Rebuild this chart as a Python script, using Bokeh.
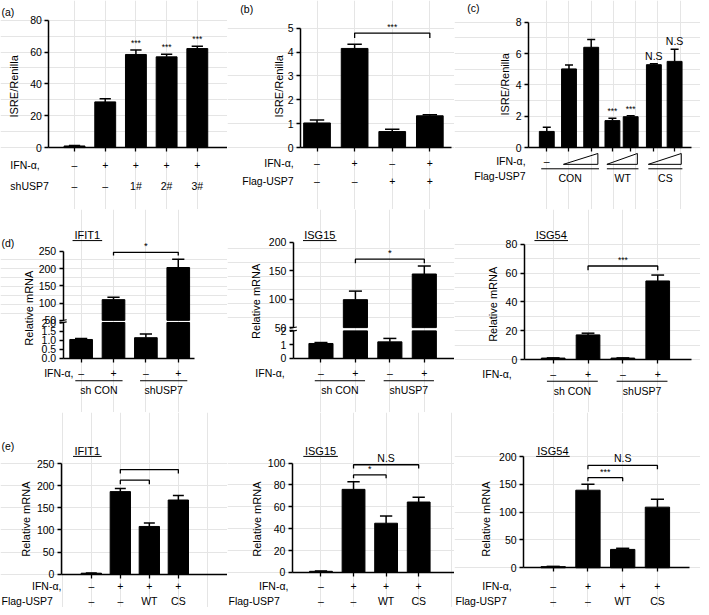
import math
from bokeh.plotting import figure
from bokeh.models import Range1d, LinearAxis, FixedTicker, CustomJSTickFormatter
from bokeh.layouts import column, row
from bokeh.core.properties import value
from bokeh.embed import file_html
from bokeh.resources import INLINE

# ---------------- data ----------------
a_ifn = ["–", "+", "+", "+", "+"]
a_sh = ["–", "–", "1#", "2#", "3#"]
a_vals = [1.0, 28.7, 58.5, 57.0, 62.2]
a_err = [0.3, 2.0, 2.8, 1.7, 1.5]
a_sig = ["", "", "***", "***", "***"]
a_ticks = [0, 20, 40, 60, 80]

b_ifn = ["–", "+", "–", "+"]
b_flag = ["–", "–", "+", "+"]
b_vals = [1.03, 4.15, 0.67, 1.33]
b_err = [0.12, 0.18, 0.1, 0.04]
b_ticks = [0, 1, 2, 3, 4, 5]
b_sig = "***"

c_groups = ["CON", "WT", "CS"]
c_vals = [1.03, 5.02, 6.4, 1.72, 1.97, 5.29, 5.5]
c_err = [0.27, 0.25, 0.5, 0.15, 0.06, 0.06, 0.78]
c_sig = ["", "", "", "***", "***", "N.S", "N.S"]
c_ticks = [0, 2, 4, 6, 8]

d_ifn = ["–", "+", "–", "+"]
d_groups = ["sh CON", "shUSP7"]
d_ifit1 = [1.05, 110, 1.15, 203]
d_ifit1_err = [0.05, 7, 0.2, 24]
d_ifit1_lo_ticks = [0, 0.5, 1.0, 1.5, 2.0]
d_ifit1_hi_ticks = [50, 100, 150, 200, 250]
d_isg15 = [1.08, 99, 1.2, 144]
d_isg15_err = [0.07, 15, 0.25, 14]
d_isg15_lo_ticks = [0, 1, 2]
d_isg15_hi_ticks = [50, 100, 150, 200]
d_isg54 = [1.0, 17.1, 1.0, 54.6]
d_isg54_err = [0.15, 1.2, 0.15, 4.1]
d_isg54_ticks = [0, 20, 40, 60, 80]
d_sig = ["*", "*", "***"]

e_ifn = ["–", "+", "+", "+"]
e_flag = ["–", "–", "WT", "CS"]
e_ifit1 = [2.0, 187, 108, 168]
e_ifit1_err = [0.5, 7, 8, 10]
e_ifit1_ticks = [0, 50, 100, 150, 200, 250]
e_isg15 = [1.0, 76, 45, 64.4]
e_isg15_err = [0.3, 7, 6.6, 4.3]
e_isg15_ticks = [0, 20, 40, 60, 80, 100]
e_isg54 = [2.0, 139.5, 33, 109]
e_isg54_err = [0.5, 10.5, 2, 14]
e_isg54_ticks = [0, 50, 100, 150, 200]
e_sig_ifit1 = ["", ""]
e_sig_isg15 = ["*", "N.S"]
e_sig_isg54 = ["***", "N.S"]

# ---------------- helpers ----------------
S = 0.987
FONT = "Liberation Sans"
TICK_FS = "10.5px"
LAB_FS = "11px"
ROW_FS = "10.5px"


class Panel:
    def __init__(self, Xl, Yt, W, H, X0, dX, Y0, k):
        self.X0, self.dX, self.Y0, self.k = X0, dX, Y0, k
        xr = Range1d((Xl - X0) / dX, (Xl + W / S - X0) / dX)
        yr = Range1d((Y0 - (Yt + H / S)) / k, (Y0 - Yt) / k)
        self.p = figure(width=W, height=H, x_range=xr, y_range=yr,
                        x_axis_location=None, y_axis_location=None,
                        toolbar_location=None, tools="", output_backend="svg",
                        min_border=0, outline_line_color=None,
                        background_fill_color="white", border_fill_color="white")

    def X(self, px):
        return (px - self.X0) / self.dX

    def Y(self, py):
        return (self.Y0 - py) / self.k

    def ux(self, n):
        return n / (self.dX * S)

    def uy(self, n):
        return n / (self.k * S)

    def text(self, xs, ys, texts, align="center", baseline="middle", size=ROW_FS, angle=0.0):
        items = [(x, y, t) for x, y, t in zip(xs, ys, texts) if t]
        if not items:
            return
        self.p.text(x=[i[0] for i in items], y=[i[1] for i in items], text=[i[2] for i in items],
                    angle=angle, text_align=align, text_baseline=baseline,
                    text_font=value(FONT), text_font_size=size, text_color="black")

    def yaxis(self, axis_px, ticks, lo, hi, formatter=None):
        ax = LinearAxis(fixed_location=self.X(axis_px), bounds=(lo, hi),
                        ticker=FixedTicker(ticks=ticks, minor_ticks=[]),
                        axis_line_width=1.5, axis_line_color="black",
                        major_tick_line_width=1.5, major_tick_line_color="black",
                        major_tick_out=4, major_tick_in=0, minor_tick_out=0, minor_tick_in=0,
                        major_label_text_font=FONT, major_label_text_font_size=TICK_FS,
                        major_label_text_color="black", major_label_standoff=3)
        if formatter is not None:
            ax.formatter = formatter
        self.p.add_layout(ax, "left")

    def xaxis(self, axis_px, end_px, ticks):
        ax = LinearAxis(fixed_location=0, bounds=(self.X(axis_px), self.X(end_px)),
                        ticker=FixedTicker(ticks=ticks, minor_ticks=[]),
                        formatter=CustomJSTickFormatter(code="return ''"),
                        axis_line_width=1.5, axis_line_color="black",
                        major_tick_line_width=1.3, major_tick_line_color="black",
                        major_tick_out=4, major_tick_in=0, minor_tick_out=0, minor_tick_in=0)
        self.p.add_layout(ax, "below")

    def bars(self, pos, tops, bottoms, width):
        self.p.vbar(x=pos, top=tops, bottom=bottoms, width=width,
                    fill_color="black", line_color="black", line_width=1)

    def errbars(self, pos, y0s, y1s, capw):
        self.p.segment(x0=pos, y0=y0s, x1=pos, y1=y1s, line_color="black", line_width=1.5)
        self.p.segment(x0=[x - capw for x in pos], y0=y1s, x1=[x + capw for x in pos], y1=y1s,
                       line_color="black", line_width=1.5)

    def bracket(self, xa, xb, y, ydrop, label, size="9px"):
        self.p.multi_line(xs=[[xa, xa, xb, xb]], ys=[[ydrop, y, y, ydrop]],
                          line_color="black", line_width=1.3)
        if label:
            self.text([(xa + xb) / 2], [y + self.uy(1)], [label], baseline="bottom", size=size)

    def seg(self, x0, y0, x1, y1, lw=1.0):
        self.p.segment(x0=[x0], y0=[y0], x1=[x1], y1=[y1], line_color="black", line_width=lw)


def std_bars(P, pos, vals, errs, width):
    P.bars(pos, vals, [0] * len(vals), width)
    P.errbars(pos, vals, [v + e for v, e in zip(vals, errs)], width * 0.27)


# ---------------- (a) ----------------
pa = Panel(0, 0, 227, 209, X0=75, dX=31.1, Y0=149, k=1.6125)
xa = list(range(len(a_vals)))
pa.yaxis(49, a_ticks, 0, a_ticks[-1])
pa.xaxis(49, 230, xa)
std_bars(pa, xa, a_vals, a_err, 0.68)
pa.text(xa, [v + e + pa.uy(2) for v, e in zip(a_vals, a_err)], a_sig, baseline="bottom", size="8.5px")
pa.text([pa.X(14)], [pa.Y(87)], ["ISRE/Renilla"], angle=math.pi / 2, size=LAB_FS)
pa.text([pa.X(1)], [pa.Y(12)], ["(a)"], align="left", size="10.5px")
pa.text([pa.X(10)], [pa.Y(167)], ["IFN-α,"], align="left")
pa.text([pa.X(10)], [pa.Y(188)], ["shUSP7"], align="left")
pa.text(xa, [pa.Y(167)] * 5, a_ifn)
pa.text(xa, [pa.Y(188)] * 5, a_sh)

# ---------------- (b) ----------------
pb = Panel(230, 0, 227, 209, X0=320.7, dX=38.1, Y0=149, k=24.2)
xb = list(range(len(b_vals)))
pb.yaxis(304, b_ticks, 0, b_ticks[-1])
pb.xaxis(304, 457, xb)
std_bars(pb, xb, b_vals, b_err, 0.71)
pb.bracket(xb[1], xb[3], pb.Y(33), pb.Y(38), b_sig, size="8.5px")
pb.text([pb.X(282)], [pb.Y(87)], ["ISRE/Renilla"], angle=math.pi / 2, size=LAB_FS)
pb.text([pb.X(243)], [pb.Y(9)], ["(b)"], align="left", size="10.5px")
pb.text([pb.X(297)], [pb.Y(165)], ["IFN-α,"], align="right")
pb.text([pb.X(297)], [pb.Y(183)], ["Flag-USP7"], align="right")
pb.text(xb, [pb.Y(165)] * 4, b_ifn)
pb.text(xb, [pb.Y(183)] * 4, b_flag)

# ---------------- (c) ----------------
pc = Panel(460, 0, 246, 209, X0=553.5, dX=22.5, Y0=149, k=15.875)
xc = [0, 1, 2, 2.956, 3.778, 4.822, 5.756]
pc.yaxis(535, c_ticks, 0, c_ticks[-1])
pc.xaxis(535, 700, xc)
std_bars(pc, xc, c_vals, c_err, 0.67)
sig_sizes = {"***": "8.5px", "N.S": "10.5px"}
for x, v, e, s in zip(xc, c_vals, c_err, c_sig):
    if s:
        pc.text([x], [v + e + pc.uy(2)], [s], baseline="bottom", size=sig_sizes[s])
pc.text([pc.X(511)], [pc.Y(85)], ["ISRE/Renilla"], angle=math.pi / 2, size=LAB_FS)
pc.text([pc.X(473)], [pc.Y(8)], ["(c)"], align="left", size="10.5px")
pc.text([pc.X(532)], [pc.Y(163)], ["IFN-α,"], align="right")
pc.text([pc.X(532)], [pc.Y(178)], ["Flag-USP7"], align="right")
pc.text([xc[0]], [pc.Y(163)], ["–"])
groups_idx = [(0, 2), (3, 4), (5, 6)]
for gi, (i, j) in enumerate(groups_idx):
    wi = i + 1 if gi == 0 else i
    xl, xr_ = xc[wi] - 0.25, xc[j] + 0.3
    pc.p.patches(xs=[[xl, xr_, xr_]], ys=[[pc.Y(166), pc.Y(166), pc.Y(155)]],
                 fill_color=None, line_color="black", line_width=1)
    ul, ur = xc[i] - 0.25, xc[j] + 0.35
    pc.seg(ul, pc.Y(170.5), ur, pc.Y(170.5), 1.0)
    pc.text([(ul + ur) / 2], [pc.Y(180)], [c_groups[gi]])


# ---------------- (d) broken-axis panels ----------------
def broken_panel(Xl, W, X0, dX, k, gap, r, axis_px, xend_px, vals, errs, lo_ticks, hi_ticks, lo_dec,
                 ylab_x, ylab_y, title, title_x, title_w, ifn_x, sig, level_v, drop_v, label_d=False):
    P = Panel(Xl, 212, W, 203, X0=X0, dX=dX, Y0=362.7, k=k)
    base = 2 + gap

    def d(v):
        return v if v <= 2 else base + (v - 50) * r

    xs = list(range(len(vals)))
    P.yaxis(axis_px, lo_ticks, 0, 2,
            formatter=CustomJSTickFormatter(args=dict(n=lo_dec), code="return tick.toFixed(n);"))
    P.yaxis(axis_px, [d(t) for t in hi_ticks], base, d(hi_ticks[-1]),
            formatter=CustomJSTickFormatter(args=dict(b=base, r=r),
                                            code="return String(Math.round(50 + (tick - b) / r));"))
    P.xaxis(axis_px, xend_px, xs)
    w = 0.7
    P.bars(xs, [min(v, 2) for v in vals], [0] * len(vals), w)
    hx = [x for x, v in zip(xs, vals) if v > 50]
    hv = [d(v) for v in vals if v > 50]
    P.bars(hx, hv, [base] * len(hx), w)
    P.errbars(xs, [d(v) for v in vals], [d(v + e) for v, e in zip(vals, errs)], w * 0.27)
    ax = P.X(axis_px)
    for yy in (2, base):
        P.seg(ax - P.ux(3.5), yy - P.uy(0.6), ax + P.ux(3.5), yy + P.uy(0.6), 1.2)
    P.bracket(xs[1], xs[3], d(level_v), d(drop_v), sig, size="9.5px")
    P.text([P.X(ylab_x)], [P.Y(ylab_y)], ["Relative mRNA"], angle=math.pi / 2, size=LAB_FS)
    P.text([P.X(title_x)], [P.Y(238)], [title], size=LAB_FS)
    P.seg(P.X(title_x - title_w / 2), P.Y(243.5), P.X(title_x + title_w / 2), P.Y(243.5), 1.0)
    if label_d:
        P.text([P.X(1)], [P.Y(246)], ["(d)"], align="left", size="10.5px")
    P.text([P.X(ifn_x)], [P.Y(378)], ["IFN-α,"], align="right")
    P.text(xs, [P.Y(378)] * 4, d_ifn)
    for gi, (i, j) in enumerate([(0, 1), (2, 3)]):
        ul, ur = xs[i] - 0.18, xs[j] + 0.28
        P.seg(ul, P.Y(385.5), ur, P.Y(385.5), 1.0)
        P.text([(ul + ur) / 2], [P.Y(395)], [d_groups[gi]])
    return P


pd1 = broken_panel(0, 227, 81.7, 32.8, 18.1, 0.12, 0.01934, 63.5, 197,
                   d_ifit1, d_ifit1_err, d_ifit1_lo_ticks, d_ifit1_hi_ticks, 1,
                   29, 312, "IFIT1", 88, 30, 74, d_sig[0], 247, 238, label_d=True)
pd2 = broken_panel(230, 227, 324.7, 34.9, 13.85, 0.24, 0.04173, 296.7, 460,
                   d_isg15, d_isg15_err, d_isg15_lo_ticks, d_isg15_hi_ticks, 0,
                   259, 305, "ISG15", 323.5, 34, 288, d_sig[1], 170, 163)

# ISG54 (d) - continuous axis
pd3 = Panel(460, 212, 246, 203, X0=560, dX=35.3, Y0=364, k=1.458)
x4 = list(range(4))
pd3.yaxis(530.7, d_isg54_ticks, 0, d_isg54_ticks[-1])
pd3.xaxis(530.7, 700, x4)
std_bars(pd3, x4, d_isg54, d_isg54_err, 0.68)
pd3.bracket(1, 3, 65, 62, d_sig[2], size="8.5px")
pd3.text([pd3.X(499)], [pd3.Y(308)], ["Relative mRNA"], angle=math.pi / 2, size=LAB_FS)
pd3.text([pd3.X(558)], [pd3.Y(238)], ["ISG54"], size=LAB_FS)
pd3.seg(pd3.X(541), pd3.Y(243.5), pd3.X(575), pd3.Y(243.5), 1.0)
pd3.text([pd3.X(518)], [pd3.Y(379)], ["IFN-α,"], align="right")
pd3.text(x4, [pd3.Y(379)] * 4, d_ifn)
for gi, (i, j) in enumerate([(0, 1), (2, 3)]):
    ul, ur = x4[i] - 0.18, x4[j] + 0.28
    pd3.seg(ul, pd3.Y(386), ur, pd3.Y(386), 1.0)
    pd3.text([(ul + ur) / 2], [pd3.Y(396)], [d_groups[gi]])


# ---------------- (e) ----------------
def e_panel(Xl, W, X0, dX, Y0, k, axis_px, xend_px, ticks, vals, errs, sigs, levels, drops,
            ylab_x, title, title_x, title_w, ifn_x, flag_x, flag_y, label_e=False):
    P = Panel(Xl, 418, W, 195, X0=X0, dX=dX, Y0=Y0, k=k)
    xs = list(range(len(vals)))
    P.yaxis(axis_px, ticks, 0, ticks[-1])
    P.xaxis(axis_px, xend_px, xs)
    std_bars(P, xs, vals, errs, 0.7)
    for (i, j), lv, dv, s in zip([(1, 2), (1, 3)], levels, drops, sigs):
        P.bracket(xs[i], xs[j], lv, dv, s, size=("10.5px" if s == "N.S" else "9px"))
    P.text([P.X(ylab_x)], [P.Y(526)], ["Relative mRNA"], angle=math.pi / 2, size=LAB_FS)
    P.text([P.X(title_x)], [P.Y(457.5)], [title], size=LAB_FS)
    P.seg(P.X(title_x - title_w / 2), P.Y(462.5), P.X(title_x + title_w / 2), P.Y(462.5), 1.0)
    if label_e:
        P.text([P.X(1)], [P.Y(452)], ["(e)"], align="left", size="10.5px")
    P.text([P.X(ifn_x)], [P.Y(593.5)], ["IFN-α,"], align="right")
    P.text([P.X(flag_x)], [P.Y(flag_y)], ["Flag-USP7"], align="left")
    P.text(xs, [P.Y(593.5)] * 4, e_ifn)
    P.text(xs, [P.Y(flag_y)] * 4, e_flag)
    return P


pe1 = e_panel(0, 227, 92, 29.4, 581.7, 0.4467, 61.7, 230, e_ifit1_ticks, e_ifit1, e_ifit1_err,
              e_sig_ifit1, [213, 237], [204, 228], 26, "IFIT1", 88, 29, 61.7, 1, 608.5, label_e=True)
pe2 = e_panel(230, 227, 324.7, 33, 580, 1.107, 295.7, 460, e_isg15_ticks, e_isg15, e_isg15_err,
              e_sig_isg15, [89.2, 98.5], [86.2, 95], 260, "ISG15", 324.3, 35, 291.7, 231, 608.5)
pe3 = e_panel(460, 246, 560, 35.2, 575.3, 0.5633, 530, 698, e_isg54_ticks, e_isg54, e_isg54_err,
              e_sig_isg54, [162, 184], [155.5, 177], 492, "ISG54", 559.7, 34, 518, 461, 609)

layout = column(row(pa.p, pb.p, pc.p), row(pd1.p, pd2.p, pd3.p), row(pe1.p, pe2.p, pe3.p))

open("out.html", "w").write(file_html(layout, INLINE))
